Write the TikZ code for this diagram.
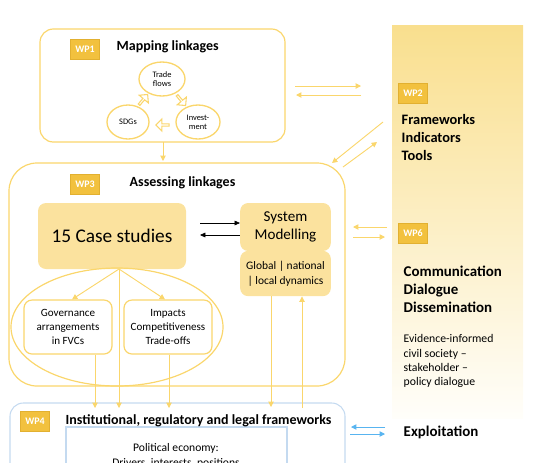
\documentclass[tikz,border=0pt]{standalone}
\usepackage{fontspec}
\setmainfont{Carlito}
\usetikzlibrary{arrows.meta,shapes.arrows,shapes.geometric}

\definecolor{goldline}{RGB}{250,214,108}
\definecolor{wpfill}{RGB}{242,193,62}
\definecolor{wpedge}{RGB}{226,176,48}
\definecolor{boxfill}{RGB}{251,226,158}
\definecolor{paneltop}{RGB}{249,223,142}
\definecolor{panelbot}{RGB}{255,254,250}
\definecolor{blueline}{RGB}{196,218,240}
\definecolor{bluearrow}{RGB}{88,180,240}

\tikzset{
  wplabel/.style={draw=wpedge, fill=wpfill, text=white, font=\bfseries\fontsize{7.5}{8}\selectfont, minimum width=22pt, minimum height=15pt, inner sep=0pt},
  goldbox/.style={draw=goldline, line width=0.9pt},
  flowell/.style={draw=goldline, line width=1pt, ellipse, inner sep=0pt, align=center, font=\fontsize{6.3}{6.8}\selectfont},
  hollowarr/.style={draw=goldline, line width=0.8pt, fill=white, single arrow, minimum height=10pt, minimum width=9pt, single arrow head extend=1.8pt, inner sep=0pt},
  yarr/.style={draw=goldline, line width=0.7pt, -{Triangle[length=4pt,width=4pt]}},
  karr/.style={draw=black, line width=0.5pt, -{Triangle[length=4pt,width=3.5pt]}},
  barr/.style={draw=bluearrow, line width=0.6pt, -{Triangle[length=4pt,width=4pt]}},
  subbox/.style={draw=goldline, line width=0.9pt, fill=white, rounded corners=6pt, minimum width=66pt, minimum height=40.5pt, align=center, font=\fontsize{8.3}{10.5}\selectfont},
  smbox/.style={fill=boxfill, rounded corners=6pt, minimum width=68pt, align=center},
}

\begin{document}
\begin{tikzpicture}[x=0.75pt,y=0.75pt,yscale=-1,xscale=1]
\useasboundingbox (0,0) rectangle (534,462);
\clip (0,0) rectangle (534,462);

%Shape: right panel WP2 / WP6
\shade [top color=paneltop, bottom color=panelbot] (392,25) rectangle (523,418);

%Shape: WP1 box
\draw [goldbox, rounded corners=10pt] (40,29) rectangle (285,142);
\node [wplabel] (wpone) at (85,49) {WP1};
\node [anchor=west, font=\bfseries\fontsize{10.5}{12}\selectfont] (maptitle) at (112,47) {Mapping linkages};
% Ellipses
\node [flowell, minimum width=34.5pt, minimum height=25.5pt] (trade) at (162,79) {Trade\\flows};
\node [flowell, minimum width=31.5pt, minimum height=25.5pt] (sdgs) at (128,122) {SDGs};
\node [flowell, minimum width=33pt, minimum height=25.5pt] (invest) at (198,122) {Invest-\\ment};
% Hollow arrows
\node [hollowarr, rotate=50] (sdtr) at (143,100) {};
\node [hollowarr, rotate=-50] (trin) at (181,100) {};
\node [hollowarr, rotate=180] (insd) at (163,125) {};

%Shape: WP3 box
\draw [goldbox, rounded corners=21pt] (9,163) rectangle (345,386);
\node [wplabel] (wpthree) at (85,184) {WP3};
\node [anchor=west, font=\bfseries\fontsize{10.5}{12}\selectfont] (asstitle) at (125,183) {Assessing linkages};

\node [fill=boxfill, rounded corners=6pt, minimum width=111pt, minimum height=49.5pt, font=\fontsize{14.5}{15}\selectfont] (cases) at (112,236) {15 Case studies};
\node [smbox, minimum height=36pt, font=\fontsize{11.3}{14}\selectfont] (smtop) at (285.5,227) {System\\Modelling};
\node [smbox, minimum height=34pt, font=\fontsize{8.6}{11.5}\selectfont] (smbot) at (285.5,273.5) {Global | national\\| local dynamics};

\draw (117,327) [goldbox] ellipse [x radius=106, y radius=59];
\node [subbox] (gov) at (68,327) {Governance\\arrangements\\in FVCs};
\node [subbox] (imp) at (168,327) {Impacts\\Competitiveness\\Trade-offs};

%Shape: WP4 box
\draw [draw=blueline, line width=0.8pt, rounded corners=10pt] (10,403) rectangle (345,530);
\draw [draw=blueline, line width=0.8pt] (66,427) rectangle (287,530);
\node [wplabel] (wpfour) at (35,421) {WP4};
\node [anchor=west, font=\bfseries\fontsize{10.5}{12}\selectfont] (insttitle) at (61,421) {Institutional, regulatory and legal frameworks};
\node [font=\fontsize{8.7}{11}\selectfont, align=center, anchor=north] (polecon) at (176,439) {Political economy:\\Drivers, interests, positions};

%Right panel texts
\node [wplabel] (wptwo) at (413,93) {WP2};
\node [anchor=north west, align=left, font=\bfseries\fontsize{10.8}{13.5}\selectfont] (wptwotext) at (397,110) {Frameworks\\Indicators\\Tools};
\node [wplabel] (wpsix) at (413,233) {WP6};
\node [anchor=north west, align=left, font=\bfseries\fontsize{11.2}{13.5}\selectfont] (wpsixtext) at (399,261) {Communication\\Dialogue\\Dissemination};
\node [anchor=north west, align=left, font=\fontsize{8.8}{10.6}\selectfont] (evid) at (399,330) {Evidence-informed\\civil society --\\stakeholder --\\policy dialogue};
\node [anchor=west, font=\bfseries\fontsize{11.2}{12}\selectfont] (exploit) at (399,432) {Exploitation};

%Coordinates for free arrow ends
\coordinate (casebot) at (119,269);
\coordinate (wponebot) at (163,142);
\coordinate (wpthreetop) at (163,161);
\coordinate (wponeR1) at (295,86);
\coordinate (wponeR2) at (296,95);
\coordinate (wptwoL1) at (361,86);
\coordinate (wptwoL2) at (361,95);
\coordinate (diagA) at (383,122);
\coordinate (diagB) at (332,163);
\coordinate (diagC) at (343,167);
\coordinate (diagD) at (377,142);
\coordinate (wpsixL1) at (387,227);
\coordinate (wpsixL2) at (385,237);
\coordinate (wpthreeR1) at (353,227);
\coordinate (wpthreeR2) at (353,237);
\coordinate (wpfourR1) at (351,427);
\coordinate (wpfourR2) at (350,434);
\coordinate (explL1) at (385,427);
\coordinate (explL2) at (385,434);

%Arrows
\draw [yarr] (wponebot) -- (wpthreetop);
\draw [yarr] (wponeR1) -- (wptwoL1);
\draw [yarr] (wptwoL2) -- (wponeR2);
\draw [yarr] (diagA) -- (diagB);
\draw [yarr] (diagC) -- (diagD);
\draw [yarr] (wpsixL1) -- (wpthreeR1);
\draw [yarr] (wpthreeR2) -- (wpsixL2);
\draw [barr] (explL1) -- (wpfourR1);
\draw [barr] (wpfourR2) -- (explL2);

\draw [karr] (200,223) -- (smtop.west |- 0,223);
\draw [karr] (smtop.west |- 0,235) -- (200,235);

\draw [yarr] (casebot) -- (gov.north -| 72,0);
\draw [yarr] (casebot) -- (imp.north -| 165,0);
\draw [yarr] (casebot) -- (119,408);
\draw [yarr] (gov.south -| 95,0) -- (95,408);
\draw [yarr] (imp.south -| 169,0) -- (169,408);
\draw [yarr] (smbot.south -| 271,0) -- (271,407);
\draw [yarr] (302,408) -- (smbot.south -| 302,0);

\end{tikzpicture}
\end{document}
